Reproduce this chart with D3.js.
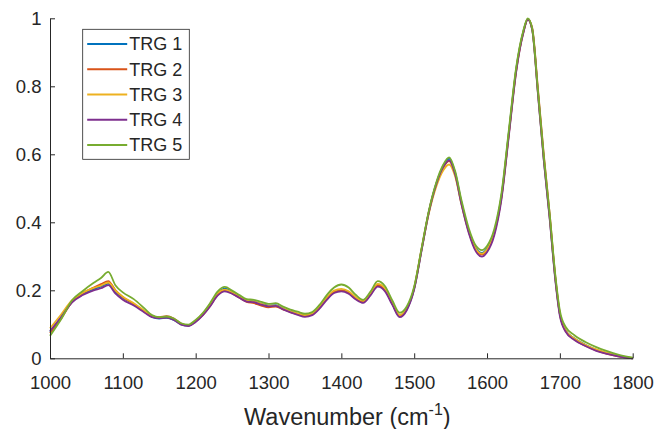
<!DOCTYPE html>
<html>
<head>
<meta charset="utf-8">
<script src="https://cdn.jsdelivr.net/npm/d3@7"></script>
<style>
    body { margin: 0; background: #fff; }
    text { font-family: "Liberation Sans", Arial, Helvetica, sans-serif; fill: #262626; }
</style>
</head>
<body>
<svg class="spectra" width="659" height="429"></svg>
<script>
// Wavenumber samples (cm-1).
let wavenumbers = [1000, 1015, 1030, 1045, 1060, 1070, 1080, 1090, 1100, 1115, 1130, 1140, 1150, 1160, 1170, 1180, 1190,
    1200, 1210, 1220, 1230, 1240, 1250, 1260, 1270, 1280, 1290, 1300, 1310, 1320, 1330, 1340, 1350, 1360, 1370, 1380, 1390,
    1400, 1410, 1420, 1430, 1440, 1450, 1460, 1470, 1480, 1490, 1500, 1510, 1520, 1530, 1540, 1548, 1556, 1565, 1575, 1585,
    1593, 1600, 1610, 1620, 1630, 1640, 1650, 1656, 1662, 1670, 1678, 1686, 1694, 1700, 1708, 1720, 1735, 1750, 1765, 1780, 1800];

let trg1 = [.078, .120, .166, .190, .204, .211, .220, .195, .178, .160, .137, .122, .117, .119, .113, .100, .096,
    .109, .130, .158, .190, .205, .195, .182, .170, .167, .160, .155, .156, .146, .137, .131, .125, .130, .150, .176, .195,
    .200, .193, .176, .166, .189, .215, .201, .160, .124, .145, .205, .318, .430, .512, .566, .587, .548, .458, .375, .322,
    .310, .322, .372, .480, .665, .850, .962, .998, .968, .780, .585, .415, .230, .130, .082, .058, .040, .025, .015, .007, .000];

let trg2 = [.074, .116, .165, .192, .208, .218, .227, .200, .180, .160, .137, .124, .121, .124, .117, .102, .097,
    .109, .128, .155, .186, .200, .191, .178, .166, .162, .155, .150, .152, .144, .136, .130, .125, .130, .149, .175, .194,
    .199, .192, .175, .166, .189, .215, .201, .161, .126, .147, .207, .320, .430, .510, .562, .580, .544, .455, .372, .318,
    .305, .318, .368, .476, .660, .845, .960, .997, .972, .790, .598, .425, .235, .132, .080, .055, .037, .023, .013, .006, .000];

let trg3 = [.088, .128, .170, .193, .207, .214, .223, .199, .181, .162, .139, .124, .120, .121, .115, .101, .097,
    .111, .132, .160, .191, .202, .194, .181, .170, .167, .160, .154, .155, .146, .138, .132, .127, .132, .152, .179, .199,
    .204, .197, .179, .169, .192, .219, .205, .164, .127, .148, .207, .318, .425, .503, .553, .570, .537, .452, .372, .320,
    .308, .320, .370, .478, .663, .848, .962, .998, .967, .778, .585, .415, .230, .130, .082, .058, .040, .026, .016, .008, .001];

let trg4 = [.080, .120, .164, .186, .200, .206, .215, .190, .172, .155, .134, .121, .118, .120, .113, .099, .095,
    .107, .127, .153, .184, .197, .190, .178, .167, .165, .158, .153, .154, .144, .135, .128, .122, .127, .146, .172, .192,
    .197, .190, .173, .163, .185, .211, .197, .157, .121, .142, .203, .315, .428, .510, .563, .582, .543, .452, .368, .313,
    .299, .312, .362, .470, .655, .842, .958, .996, .966, .775, .580, .410, .225, .125, .078, .054, .036, .022, .013, .006, .000];

let trg5 = [.066, .114, .170, .198, .222, .236, .254, .214, .194, .174, .146, .127, .121, .123, .117, .103, .099,
    .113, .134, .163, .196, .210, .199, .186, .174, .172, .166, .160, .162, .152, .143, .137, .131, .136, .157, .186, .208,
    .217, .208, .186, .172, .196, .227, .212, .170, .134, .153, .211, .322, .433, .515, .570, .591, .552, .464, .382, .330,
    .318, .330, .380, .488, .672, .855, .965, 1.0, .970, .785, .593, .425, .240, .140, .092, .068, .048, .033, .021, .011, .002];

let seriesNames = ["TRG 1", "TRG 2", "TRG 3", "TRG 4", "TRG 5"];
let seriesValues = [trg1, trg2, trg3, trg4, trg5];
let seriesColors = ["#0072BD", "#D95319", "#EDB120", "#7E2F8E", "#77AC30"];

let xTicks = [1000, 1100, 1200, 1300, 1400, 1500, 1600, 1700, 1800];
let yTicks = [0, 0.2, 0.4, 0.6, 0.8, 1];

let svg = d3.select(".spectra");
let width = +svg.attr("width");
let height = +svg.attr("height");
let axisColor = "#262626";

let plotAttr = {
    left: 50,
    right: 632.7,
    top: 18.3,
    bottom: 358.3
};

// Setup scales.
let xScale = d3.scaleLinear()
    .domain([1000, 1800])
    .range([plotAttr.left, plotAttr.right]);
let yScale = d3.scaleLinear()
    .domain([0, 1])
    .range([plotAttr.bottom, plotAttr.top]);

// Draw curves, first series at the bottom.
let lineGen = d3.line()
    .x((d, i) => xScale(wavenumbers[i]))
    .y(d => yScale(d))
    .curve(d3.curveMonotoneX);

seriesValues.forEach((values, i) => {
    svg.append("path")
        .attr("d", lineGen(values))
        .attr("fill", "none")
        .attr("stroke", seriesColors[i])
        .attr("stroke-width", 1.8)
        .style("stroke-linejoin", "round");
});

// Draw axes (ticks point inward).
let xAxis = svg.append("g")
    .attr("transform", "translate(0," + plotAttr.bottom + ")")
    .call(d3.axisBottom(xScale)
        .tickValues(xTicks)
        .tickFormat(d3.format("d"))
        .tickSizeInner(-5)
        .tickSizeOuter(0)
        .tickPadding(17.5));
let yAxis = svg.append("g")
    .attr("transform", "translate(" + plotAttr.left + ",0)")
    .call(d3.axisLeft(yScale)
        .tickValues(yTicks)
        .tickFormat(d => d3.format("")(d))
        .tickSizeInner(-5)
        .tickSizeOuter(0)
        .tickPadding(8.5));

[xAxis, yAxis].forEach(axis => {
    axis.selectAll("path, line").attr("stroke", axisColor).attr("stroke-width", 1);
    axis.selectAll("text")
        .attr("fill", axisColor)
        .style("font-size", "18.5px")
        .style("font-family", "'Liberation Sans', Arial, sans-serif");
});

// Draw x axis title with superscript.
let xTitle = svg.append("text")
    .attr("x", (plotAttr.left + plotAttr.right) / 2 + 6)
    .attr("y", 425)
    .attr("text-anchor", "middle")
    .style("font-size", "23.5px");
xTitle.append("tspan").text("Wavenumber (cm");
xTitle.append("tspan")
    .attr("dy", -10)
    .style("font-size", "16px")
    .text("-1");
xTitle.append("tspan")
    .attr("dy", 10)
    .text(")");

// Draw legend.
let legendAttr = { x: 82.7, y: 29.3, width: 106.6, height: 130, rowHeight: 25.25 };
let legend = svg.append("g")
    .attr("transform", "translate(" + legendAttr.x + "," + legendAttr.y + ")");
legend.append("rect")
    .attr("width", legendAttr.width)
    .attr("height", legendAttr.height)
    .attr("fill", "white")
    .attr("stroke", axisColor)
    .attr("stroke-width", 0.8);
seriesNames.forEach((name, i) => {
    let y = 14.7 + i * legendAttr.rowHeight;
    legend.append("line")
        .attr("x1", 4.5)
        .attr("x2", 44.5)
        .attr("y1", y)
        .attr("y2", y)
        .attr("stroke", seriesColors[i])
        .attr("stroke-width", 1.8);
    legend.append("text")
        .attr("x", 46.5)
        .attr("y", y)
        .attr("dy", "0.35em")
        .style("font-size", "18px")
        .text(name);
});
</script>
</body>
</html>
